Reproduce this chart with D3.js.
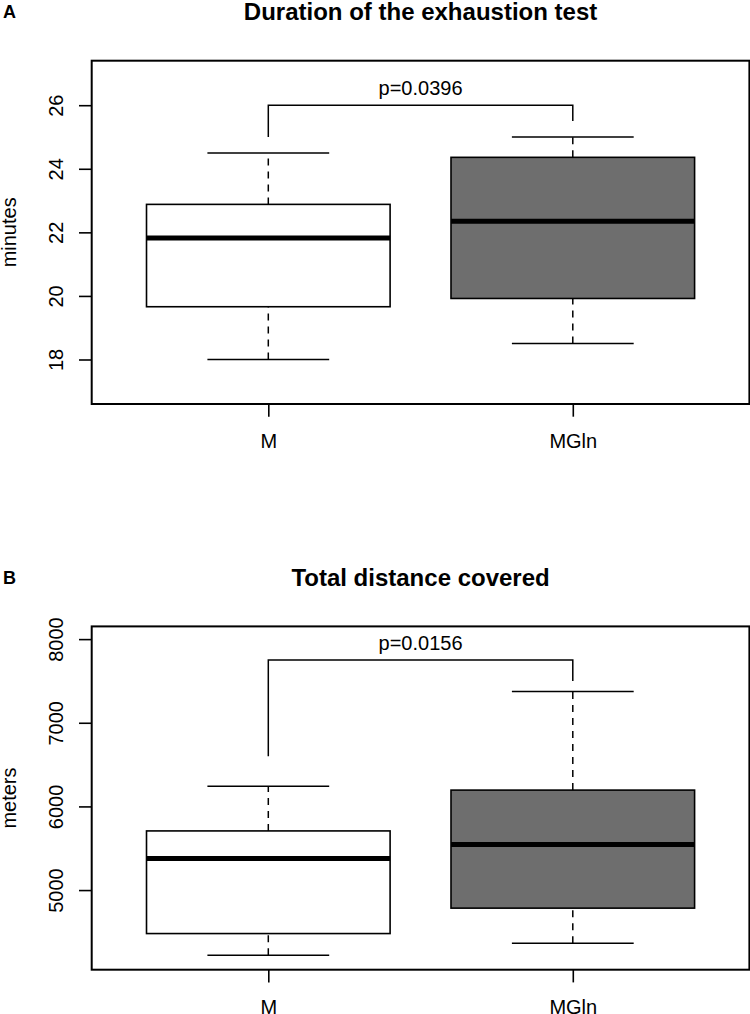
<!DOCTYPE html>
<html><head><meta charset="utf-8">
<script src="https://cdn.jsdelivr.net/npm/d3@7"></script>
<style>html,body{margin:0;padding:0;background:#fff;}svg{display:block;}</style>
</head><body>
<svg id="chart" width="750" height="1014"></svg>
<script>
// ---- data ----
const categories = ["M", "MGln"];
const fills = ["#ffffff", "#6e6e6e"];

const titleA = "Duration of the exhaustion test";
const yLabelA = "minutes";
const yLimA = [17, 27];
const yTicksA = [18, 20, 22, 24, 26];
// [min, q1, median, q3, max]
const durationM = [18.0, 19.66, 21.82, 22.88, 24.5];
const durationMGln = [18.5, 19.92, 22.35, 24.36, 25.0];
const bracketA = [26, 25, 25.5]; // bar, left leg end, right leg end
const pLabelA = "p=0.0396";

const titleB = "Total distance covered";
const yLabelB = "meters";
const yLimB = [4200, 8000];
const yTicksB = [5000, 6000, 7000, 8000];
const distanceM = [4220, 4480, 5378, 5707, 6240];
const distanceMGln = [4365, 4784, 5544, 6195, 7375];
const bracketB = [7750, 6600, 7500];
const pLabelB = "p=0.0156";

// ---- drawing ----
const svg = d3.select("#chart");
const font = "'Liberation Sans', Arial, Helvetica, sans-serif";

function panel(opt) {
  const g = svg.append("g");
  const L = 91.7, R = 749.4, T = opt.top, B = opt.top + 343.3;
  const ext = (opt.ylim[1] - opt.ylim[0]) * 0.04;
  const y = d3.scaleLinear().domain([opt.ylim[0] - ext, opt.ylim[1] + ext]).range([B, T]);
  const x = d3.scalePoint().domain(categories).range([L, R]).padding(0.58);
  const step = x.step();
  const bw = step * 0.8, cw = step * 0.4;

  // panel letter
  g.append("text").attr("x", 3).attr("y", T - 42.5).attr("font-family", font)
    .attr("font-weight", "bold").attr("font-size", 18).text(opt.letter);
  // title
  g.append("text").attr("x", (L + R) / 2).attr("y", T - 40.3).attr("text-anchor", "middle")
    .attr("font-family", font).attr("font-weight", "bold").attr("font-size", 24).text(opt.title);

  // boxes
  opt.stats.forEach((s, i) => {
    const cx = x(categories[i]);
    const gg = g.append("g").attr("stroke", "#000").attr("fill", "none");
    gg.append("line").attr("x1", cx).attr("x2", cx).attr("y1", y(s[0])).attr("y2", y(s[1]))
      .attr("stroke-width", 1.5).attr("stroke-dasharray", "7,6");
    gg.append("line").attr("x1", cx).attr("x2", cx).attr("y1", y(s[3])).attr("y2", y(s[4]))
      .attr("stroke-width", 1.5).attr("stroke-dasharray", "7,6");
    gg.append("line").attr("x1", cx - cw / 2).attr("x2", cx + cw / 2).attr("y1", y(s[0])).attr("y2", y(s[0])).attr("stroke-width", 1.5);
    gg.append("line").attr("x1", cx - cw / 2).attr("x2", cx + cw / 2).attr("y1", y(s[4])).attr("y2", y(s[4])).attr("stroke-width", 1.5);
    gg.append("rect").attr("x", cx - bw / 2).attr("width", bw).attr("y", y(s[3])).attr("height", y(s[1]) - y(s[3]))
      .attr("fill", fills[i]).attr("stroke-width", 1.6);
    gg.append("line").attr("x1", cx - bw / 2).attr("x2", cx + bw / 2).attr("y1", y(s[2])).attr("y2", y(s[2])).attr("stroke-width", 5);
  });

  // bracket
  const xa = x(categories[0]), xb = x(categories[1]);
  g.append("path").attr("fill", "none").attr("stroke", "#000").attr("stroke-width", 1.5)
    .attr("d", `M${xa},${y(opt.bracket[1])}V${y(opt.bracket[0])}H${xb}V${y(opt.bracket[2])}`);
  g.append("text").attr("x", (xa + xb) / 2).attr("y", y(opt.bracket[0]) - 10.5).attr("text-anchor", "middle")
    .attr("font-family", font).attr("font-size", 20).text(opt.p);

  // frame
  g.append("rect").attr("x", L).attr("y", T).attr("width", R - L).attr("height", B - T)
    .attr("fill", "none").attr("stroke", "#000").attr("stroke-width", 2);

  // y axis
  const ya = g.append("g").attr("transform", `translate(${L},0)`)
    .call(d3.axisLeft(y).tickValues(opt.yticks).tickSize(12.7).tickPadding(16).tickFormat(d3.format("d")));
  ya.select(".domain").remove();
  ya.selectAll("line").attr("stroke-width", 1.6);
  ya.selectAll("text").attr("font-family", font).attr("font-size", 20).attr("fill", "#000")
    .attr("text-anchor", "middle").attr("x", null).attr("dy", null)
    .attr("transform", d => `translate(-28.3,0) rotate(-90)`);

  // x axis
  const xa2 = g.append("g").attr("transform", `translate(0,${B})`)
    .call(d3.axisBottom(x).tickSize(12.7).tickPadding(19));
  xa2.select(".domain").remove();
  xa2.selectAll("line").attr("stroke-width", 1.6);
  xa2.selectAll("text").attr("font-family", font).attr("font-size", 20).attr("fill", "#000")
    .attr("dy", null).attr("y", 44);

  // y label
  g.append("text").attr("transform", `translate(15.5,${(T + B) / 2}) rotate(-90)`).attr("text-anchor", "middle")
    .attr("font-family", font).attr("font-size", 20).text(opt.ylab);
}

panel({ letter: "A", title: titleA, top: 60.7, ylim: yLimA, yticks: yTicksA, stats: [durationM, durationMGln], bracket: bracketA, p: pLabelA, ylab: yLabelA });
panel({ letter: "B", title: titleB, top: 626.4, ylim: yLimB, yticks: yTicksB, stats: [distanceM, distanceMGln], bracket: bracketB, p: pLabelB, ylab: yLabelB });
</script>
</body></html>
